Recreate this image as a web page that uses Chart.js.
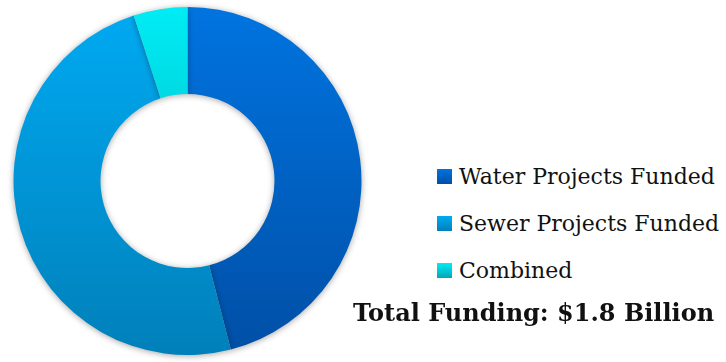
<!DOCTYPE html>
<html>
<head>
<meta charset="utf-8">
<script src="https://cdn.jsdelivr.net/npm/chart.js@4.4.0/dist/chart.umd.min.js"></script>
<style>
    body { margin: 0; background: #ffffff; width: 726px; height: 362px; overflow: hidden; position: relative; }
    #wrap { position: absolute; left: 0; top: 0; width: 375px; height: 362px; }
    #legend { position: absolute; left: 437px; top: 153px; font-family: "DejaVu Serif", serif; font-size: 22px; color: #111; white-space: nowrap; }
    #legend div { height: 47px; display: flex; align-items: center; }
    #legend span.box { display: inline-block; width: 15px; height: 15px; margin-right: 7px; flex: none; }
    #total { position: absolute; left: 353px; top: 298px; font-family: "DejaVu Serif", serif; font-weight: bold; font-size: 24px; color: #111; white-space: nowrap; }
</style>
</head>
<body>
<div id="wrap"><canvas id="chartFunding"></canvas></div>
<div id="legend"></div>
<div id="total"></div>
<script>
const categories = ['Water Projects Funded', 'Sewer Projects Funded', 'Combined'];
const shares = [46, 49, 5];
const totalLabel = 'Total Funding: $1.8 Billion';

// top / bottom colour of each slice gradient
const topColors = ['#0074e0', '#00aaf2', '#00ecf4'];
const bottomColors = ['#004fa6', '#0080ba', '#00a8b8'];

function sliceGradient(context) {
    const chart = context.chart;
    const area = chart.chartArea;
    if (!area) return topColors[context.dataIndex];
    const g = chart.ctx.createLinearGradient(0, area.top, 0, area.bottom);
    g.addColorStop(0, topColors[context.dataIndex]);
    g.addColorStop(1, bottomColors[context.dataIndex]);
    return g;
}

// soft shadow round the ring
const shadowPlugin = {
    id: 'ringShadow',
    beforeDatasetDraw(chart) {
        chart.ctx.save();
        chart.ctx.shadowColor = 'rgba(0,0,0,0.35)';
        chart.ctx.shadowBlur = 6;
        chart.ctx.shadowOffsetY = 1;
    },
    afterDatasetDraw(chart) {
        chart.ctx.restore();
    }
};

const ctx = document.getElementById('chartFunding').getContext('2d');
const chart = new Chart(ctx, {
    type: 'doughnut',
    data: {
        labels: categories,
        datasets: [
            {
                data: shares,
                backgroundColor: sliceGradient,
                borderWidth: 0
            }
        ]
    },
    options: {
        responsive: true,
        maintainAspectRatio: false,
        animation: false,
        cutout: '50%',
        layout: { padding: { top: 7, bottom: 7, left: 12, right: 12 } },
        plugins: {
            legend: { display: false },
            tooltip: { enabled: false }
        }
    },
    plugins: [shadowPlugin]
});

// legend
const legend = document.getElementById('legend');
categories.forEach((name, i) => {
    const row = document.createElement('div');
    row.innerHTML = `<span class="box" style="background: linear-gradient(${topColors[i]}, ${bottomColors[i]})"></span>${name}`;
    legend.appendChild(row);
});
document.getElementById('total').textContent = totalLabel;
</script>
</body>
</html>
